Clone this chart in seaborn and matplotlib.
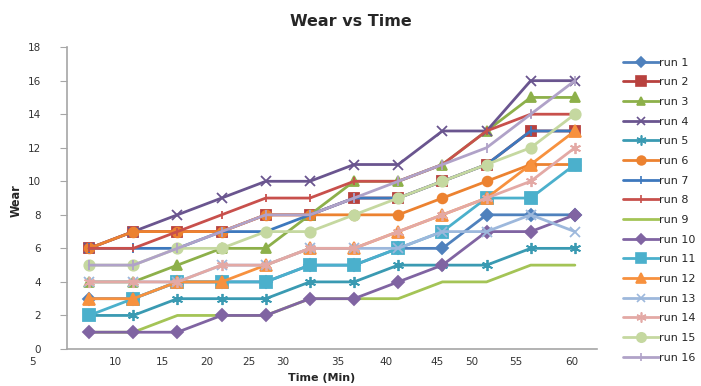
import matplotlib
matplotlib.use("Agg")
import matplotlib.pyplot as plt
from matplotlib.lines import Line2D
import seaborn as sns
import pandas as pd

sns.set_style("white")
plt.rcParams["font.family"] = ["DejaVu Sans"]

# point index along the (category) time axis
points = list(range(1, 13))

run_1 = [3, 3, 4, 4, 4, 5, 5, 6, 6, 8, 8, 8]
run_2 = [6, 7, 7, 7, 8, 8, 9, 9, 10, 11, 13, 13]
run_3 = [4, 4, 5, 6, 6, 8, 10, 10, 11, 13, 15, 15]
run_4 = [6, 7, 8, 9, 10, 10, 11, 11, 13, 13, 16, 16]
run_5 = [2, 2, 3, 3, 3, 4, 4, 5, 5, 5, 6, 6]
run_6 = [6, 7, 7, 7, 8, 8, 8, 8, 9, 10, 11, 11]
run_7 = [6, 6, 6, 7, 7, 8, 9, 9, 10, 11, 13, 13]
run_8 = [6, 6, 7, 8, 9, 9, 10, 10, 11, 13, 14, 14]
run_9 = [1, 1, 2, 2, 2, 3, 3, 3, 4, 4, 5, 5]
run_10 = [1, 1, 1, 2, 2, 3, 3, 4, 5, 7, 7, 8]
run_11 = [2, 3, 4, 4, 4, 5, 5, 6, 7, 9, 9, 11]
run_12 = [3, 3, 4, 4, 5, 6, 6, 7, 8, 9, 11, 13]
run_13 = [4, 4, 4, 5, 5, 6, 6, 6, 7, 7, 8, 7]
run_14 = [4, 4, 4, 5, 5, 6, 6, 7, 8, 9, 10, 12]
run_15 = [5, 5, 6, 6, 7, 7, 8, 9, 10, 11, 12, 14]
run_16 = [5, 5, 6, 7, 8, 8, 9, 10, 11, 12, 14, 16]

runs = {
    "run 1": run_1, "run 2": run_2, "run 3": run_3, "run 4": run_4,
    "run 5": run_5, "run 6": run_6, "run 7": run_7, "run 8": run_8,
    "run 9": run_9, "run 10": run_10, "run 11": run_11, "run 12": run_12,
    "run 13": run_13, "run 14": run_14, "run 15": run_15, "run 16": run_16,
}

tick_labels = ["10", "15", "20", "25", "30", "35", "40", "45", "50", "55", "60"]
tick_pos = [1.59, 2.67, 3.66, 4.61, 5.38, 6.64, 7.73, 8.88, 9.67, 10.66, 11.93]

# (color, marker, markersize)
styles = {
    "run 1": ("#4F81BD", "D", 6),
    "run 2": ("#B8413E", "s", 7.5),
    "run 3": ("#8DB04A", "^", 7),
    "run 4": ("#6A558F", "x", 7),
    "run 5": ("#3A9AB2", (6, 2, 0), 8),
    "run 6": ("#EC8230", "o", 7),
    "run 7": ("#3D78BD", "|", 7),
    "run 8": ("#C8504C", "|", 6),
    "run 9": ("#A4C456", None, 0),
    "run 10": ("#8064A2", "D", 6),
    "run 11": ("#4BB0CC", "s", 8),
    "run 12": ("#F7913E", "^", 8),
    "run 13": ("#9DB8DC", "x", 7),
    "run 14": ("#E3A9A5", (6, 2, 0), 8),
    "run 15": ("#C5D8A0", "o", 7.5),
    "run 16": ("#B0A2C8", "|", 7),
}

df = pd.DataFrame(
    [(name, p, v) for name, vals in runs.items() for p, v in zip(points, vals)],
    columns=["run", "point", "wear"],
)

fig = plt.figure(figsize=(7.01, 3.86), dpi=100)
ax = fig.add_axes([0.0956, 0.0959, 0.756, 0.782])

handles = []
for name in runs:
    color, marker, ms = styles[name]
    sub = df[df["run"] == name]
    kw = dict(color=color, linewidth=2.0, ax=ax, legend=False)
    if marker is not None:
        kw.update(marker=marker, markersize=ms, markeredgecolor=color,
                  markerfacecolor=color, markeredgewidth=1.3)
    sns.lineplot(data=sub, x="point", y="wear", **kw)
    handles.append(Line2D([], [], color=color, linewidth=2.0,
                          marker=marker if marker is not None else None,
                          markersize=ms * 0.9, markeredgecolor=color,
                          markerfacecolor=color, markeredgewidth=1.2, label=name))

ax.set_xlim(0.5, 12.5)
ax.set_ylim(0, 18)
ax.set_yticks(range(0, 19, 2))
ax.set_xticks(tick_pos, tick_labels)
ax.tick_params(axis="x", length=0, pad=5.5, labelsize=7.5, labelcolor="#333333")
ax.tick_params(axis="y", length=5, width=0.8, color="#A6A6A6", pad=14,
               labelsize=7.5, labelcolor="#333333", left=True)
ax.text(-0.29, -0.026, "5", transform=ax.get_xaxis_transform(),
        ha="center", va="top", fontsize=7.5, color="#333333")

for side in ["top", "right"]:
    ax.spines[side].set_visible(False)
for side in ["left", "bottom"]:
    ax.spines[side].set_color("#A6A6A6")
    ax.spines[side].set_linewidth(1.2)

ax.set_xlabel("Time (Min)", fontsize=8, fontweight="bold")
ax.set_ylabel("Wear", fontsize=9, fontweight="bold", fontstretch="condensed")
ax.xaxis.set_label_coords(0.48, -0.078)
ax.yaxis.set_label_coords(-0.083, 0.49)

fig.text(0.5, 0.945, "Wear vs Time", ha="center", va="center",
         fontsize=11.5, fontweight="bold")

fig.legend(handles=handles, loc="upper left", bbox_to_anchor=(0.882, 0.862),
           frameon=False, fontsize=8, handlelength=3.3, handletextpad=0.0,
           labelspacing=0.87, borderaxespad=0)

fig.savefig("out.png", dpi=100)
